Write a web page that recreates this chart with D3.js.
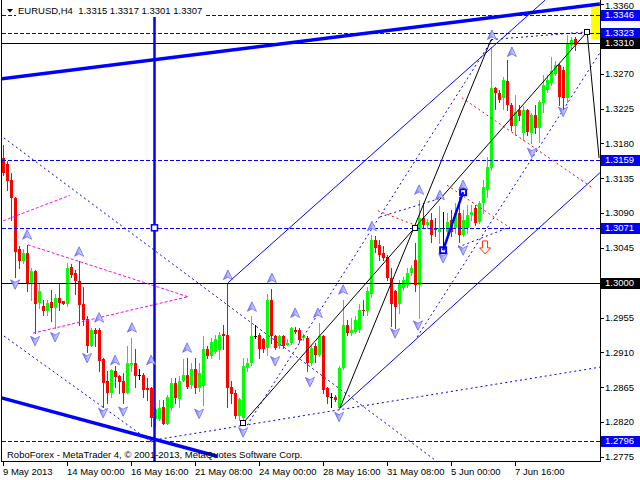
<!DOCTYPE html>
<html><head><meta charset="utf-8">
<script src="https://cdn.jsdelivr.net/npm/d3@7/dist/d3.min.js"></script>
<style>
body{margin:0;background:#fff}
svg{display:block}
text{font-family:"Liberation Sans",Arial,sans-serif;font-size:9.5px}
</style>
</head><body>
<svg id="c" width="640" height="480"></svg>
<script>
// ---------- DATA ----------
const symbol = "EURUSD,H4";
const opens = [1.3161,1.3154,1.3133,1.3109,1.3043,1.3028,1.3038,1.3000,1.3015,1.2974,
1.2970,1.2963,1.2975,1.2967,1.2980,1.2976,1.2972,1.3020,1.3012,1.3002,
1.2972,1.2953,1.2918,1.2939,1.2939,1.2901,1.2873,1.2858,1.2886,1.2880,
1.2873,1.2858,1.2894,1.2896,1.2881,1.2881,1.2864,1.2864,1.2824,1.2824,
1.2840,1.2818,1.2838,1.2871,1.2850,1.2873,1.2881,1.2868,1.2888,1.2864,
1.2867,1.2914,1.2905,1.2911,1.2913,1.2934,1.2933,1.2866,1.2858,1.2828,
1.2825,1.2890,1.2896,1.2931,1.2932,1.2927,1.2916,1.2978,1.2931,1.2918,
1.2931,1.2920,1.2922,1.2939,1.2939,1.2929,1.2929,1.2896,1.2918,1.2907,
1.2931,1.2864,1.2853,1.2853,1.2838,1.2890,1.2946,1.2935,1.2937,1.2939,
1.2965,1.2963,1.2985,1.3055,1.3049,1.3038,1.3033,1.3006,1.2989,1.2972,
1.2993,1.2997,1.3012,1.3030,1.2997,1.3083,1.3075,1.3081,1.3071,1.3066,
1.3071,1.3066,1.3081,1.3071,1.3090,1.3062,1.3071,1.3088,1.3096,1.3079,
1.3103,1.3120,1.3148,1.3251,1.3245,1.3238,1.3260,1.3230,1.3202,1.3223,
1.3193,1.3223,1.3193,1.3217,1.3200,1.3232,1.3249,1.3258,1.3270,1.3281,
1.3275,1.3238,1.3307,1.3315];
const highs = [1.3178,1.3157,1.3142,1.3111,1.3047,1.3043,1.3049,1.3019,1.3016,1.3000,
1.2978,1.2978,1.2991,1.2985,1.3000,1.2977,1.3025,1.3024,1.3017,1.3028,
1.2995,1.2957,1.2942,1.2942,1.2942,1.2903,1.2886,1.2888,1.2892,1.2881,
1.2883,1.2918,1.2929,1.2914,1.2888,1.2883,1.2877,1.2866,1.2840,1.2849,
1.2849,1.2855,1.2877,1.2877,1.2879,1.2901,1.2903,1.2896,1.2903,1.2896,
1.2931,1.2918,1.2929,1.2933,1.2937,1.2946,1.2999,1.2873,1.2862,1.2851,
1.2903,1.2903,1.2957,1.2946,1.2935,1.2929,1.2985,1.2992,1.2933,1.2933,
1.2933,1.2927,1.2943,1.2943,1.2942,1.2934,1.2931,1.2918,1.2922,1.2948,
1.2933,1.2866,1.2858,1.2855,1.2892,1.2978,1.2952,1.2954,1.2957,1.2972,
1.2978,1.2995,1.3062,1.3060,1.3055,1.3047,1.3036,1.3019,1.2991,1.3004,
1.3008,1.3019,1.3023,1.3051,1.3107,1.3101,1.3082,1.3090,1.3083,1.3099,
1.3092,1.3090,1.3094,1.3103,1.3111,1.3094,1.3101,1.3101,1.3101,1.3105,
1.3133,1.3163,1.3305,1.3253,1.3249,1.3266,1.3288,1.3232,1.3243,1.3230,
1.3228,1.3225,1.3219,1.3230,1.3236,1.3268,1.3268,1.3292,1.3286,1.3283,
1.3279,1.3320,1.3318,1.3317];
const lows = [1.3139,1.3120,1.3081,1.3008,1.3019,1.3025,1.2989,1.2978,1.2935,1.2967,
1.2959,1.2959,1.2950,1.2942,1.2965,1.2972,1.2970,1.3007,1.2985,1.2946,
1.2946,1.2911,1.2918,1.2918,1.2886,1.2840,1.2845,1.2853,1.2866,1.2858,
1.2845,1.2858,1.2886,1.2866,1.2876,1.2853,1.2849,1.2815,1.2815,1.2823,
1.2817,1.2817,1.2836,1.2845,1.2840,1.2873,1.2864,1.2864,1.2858,1.2860,
1.2842,1.2903,1.2903,1.2909,1.2901,1.2914,1.2840,1.2845,1.2825,1.2823,
1.2820,1.2886,1.2894,1.2929,1.2903,1.2911,1.2907,1.2922,1.2914,1.2916,
1.2916,1.2919,1.2921,1.2935,1.2924,1.2926,1.2886,1.2894,1.2898,1.2905,
1.2858,1.2845,1.2840,1.2847,1.2837,1.2888,1.2933,1.2933,1.2935,1.2937,
1.2959,1.2958,1.2982,1.3040,1.3030,1.3030,1.3004,1.2944,1.2942,1.2961,
1.2991,1.2995,1.3010,1.2989,1.2954,1.3071,1.3071,1.3053,1.3060,1.3051,
1.3043,1.3055,1.3060,1.3064,1.3053,1.3060,1.3064,1.3081,1.3075,1.3077,
1.3090,1.3111,1.3146,1.3225,1.3234,1.3225,1.3223,1.3197,1.3191,1.3210,
1.3185,1.3191,1.3180,1.3193,1.3182,1.3221,1.3247,1.3255,1.3268,1.3230,
1.3223,1.3234,1.3303,1.3301];
const closes = [1.3142,1.3131,1.3109,1.3040,1.3028,1.3038,1.3000,1.3015,1.2972,1.2989,
1.2963,1.2974,1.2967,1.2980,1.2974,1.2973,1.3019,1.3010,1.3002,1.2971,
1.2952,1.2918,1.2939,1.2934,1.2899,1.2871,1.2858,1.2887,1.2878,1.2872,
1.2858,1.2896,1.2897,1.2880,1.2881,1.2862,1.2862,1.2825,1.2837,1.2838,
1.2818,1.2853,1.2871,1.2851,1.2873,1.2881,1.2866,1.2888,1.2864,1.2884,
1.2914,1.2905,1.2924,1.2927,1.2933,1.2931,1.2864,1.2856,1.2828,1.2850,
1.2892,1.2896,1.2931,1.2931,1.2914,1.2914,1.2978,1.2931,1.2916,1.2931,
1.2918,1.2922,1.2942,1.2936,1.2926,1.2931,1.2896,1.2916,1.2907,1.2931,
1.2862,1.2853,1.2853,1.2849,1.2890,1.2946,1.2935,1.2939,1.2952,1.2965,
1.2963,1.2990,1.3055,1.3045,1.3036,1.3032,1.3006,1.2972,1.2969,1.3000,
1.3004,1.3012,1.3019,1.2997,1.3083,1.3074,1.3079,1.3062,1.3068,1.3071,
1.3071,1.3079,1.3066,1.3090,1.3062,1.3081,1.3088,1.3091,1.3077,1.3103,
1.3124,1.3150,1.3251,1.3245,1.3236,1.3262,1.3230,1.3202,1.3221,1.3215,
1.3223,1.3195,1.3217,1.3200,1.3234,1.3255,1.3262,1.3273,1.3281,1.3240,
1.3238,1.3308,1.3314,1.3307];

const timeLabels = ["9 May 2013","14 May 00:00","16 May 16:00","21 May 08:00","24 May 00:00","28 May 16:00","31 May 08:00","5 Jun 00:00","7 Jun 16:00"];
const timeLabelBars = [0,16,32,48,64,80,96,112,128];
const priceTicks = [1.2775,1.2820,1.2865,1.2910,1.2955,1.3000,1.3045,1.3090,1.3135,1.3180,1.3225,1.3270,1.3315,1.3360];
const dashedLevels = [1.3346,1.3323,1.3159,1.3071,1.2796];
const solidLevels = [1.3310,1.3000];
const copyright = "RoboForex - MetaTrader 4, \u00A9 2001-2013, MetaQuotes Software Corp.";

// trend objects: [bar1, price1, bar2, price2]
const thickLines = [[-0.9,1.3263,149.1,1.3360],[-0.9,1.2852,53.4,1.2776]];
const thinLines = [[56.1,1.3000,135.4,1.3365],[84.1,1.2838,149.1,1.3142]];
const dotLines = [[-0.9,1.3191,108.4,1.2769],[-0.9,1.2935,37.9,1.2791],[36.6,1.2796,149.1,1.2891],
  [60.9,1.2816,122.4,1.3316],[121.9,1.3314,145.9,1.3324],[103.4,1.2930,149.1,1.3297],
  [94.1,1.3085,110.4,1.3111],[113.6,1.3046,126.6,1.3072]];
const blackLines = [[59.9,1.2819,145.9,1.3324],[84.1,1.2838,121.9,1.3314],[145.9,1.3324,148.9,1.3161]];
const wavePath = [[109.9,1.3042,114.9,1.3117]];
const magentaLines = [[-0.1,1.3080,16.6,1.3113],[6.1,1.3049,46.1,1.2982],[7.4,1.2935,46.1,1.2982]];
const redLines = [[114.6,1.3239,147.4,1.3122],[93.6,1.3093,103.6,1.3073],[110.9,1.3126,126.6,1.3071]];
const vLine = [37.7,1.3345];
const vLineMarker = [37.7,1.3071];
const blackSquares = [[59.9,1.2819],[102.9,1.3071],[145.9,1.3324]];
const yellowBox = [146.9,1.3361,149.2,1.3314];
const upArrows = [[5.9,1.3062],[18.9,1.3040],[23.9,1.2955],[32.1,1.2942],[27.9,1.2900],[36.9,1.2900],
  [45.9,1.2916],[56.1,1.3010],[67.1,1.3006],[62.1,1.2969],[72.9,1.2961],[78.6,1.2961],[84.9,1.2991],
  [92.1,1.3073],[103.9,1.3120],[109.1,1.3113],[114.9,1.3126],[122.1,1.3320],[127.1,1.3298]];
const downArrows = [[2.9,1.2998],[7.9,1.2925],[12.9,1.2930],[20.9,1.2903],[24.9,1.2832],[29.9,1.2834],
  [48.9,1.2831],[59.9,1.2807],[67.9,1.2899],[76.6,1.2872],[83.9,1.2827],[97.9,1.2935],[103.6,1.2945],
  [109.9,1.3032],[114.9,1.3042],[132.1,1.3168],[139.9,1.3221]];
const signalArrow = [120.4,1.3045];

// ---------- CHART ----------
const W=640,H=480, RIGHT=600, BOTTOM=461;
const x=d3.scaleLinear().domain([0,150]).range([3.5,603.5]);
const y=d3.scaleLinear().domain([1.2775,1.3360]).range([457,4]);
const svg=d3.select('#c');
svg.append('rect').attr('width',W).attr('height',H).attr('fill','#fff');
const defs=svg.append('defs');
defs.append('clipPath').attr('id','pc').append('rect').attr('x',2).attr('y',0).attr('width',RIGHT-2).attr('height',BOTTOM);
const gr=defs.append('linearGradient').attr('id','ag').attr('x1',0).attr('x2',1).attr('y1',0).attr('y2',0);
gr.append('stop').attr('offset',0).attr('stop-color','#6a6aff');
gr.append('stop').attr('offset',0.5).attr('stop-color','#b4b4ff');
gr.append('stop').attr('offset',1).attr('stop-color','#f0f0ff');

const g=svg.append('g').attr('clip-path','url(#pc)');

// yellow box
g.append('rect').attr('x',x(yellowBox[0])).attr('y',y(yellowBox[1]))
 .attr('width',x(yellowBox[2])-x(yellowBox[0])).attr('height',y(yellowBox[3])-y(yellowBox[1])).attr('fill','#ffff00');

// candles
const bars=d3.range(opens.length).map(i=>({i,o:opens[i],h:highs[i],l:lows[i],c:closes[i]}));
const col=d=>d.c>d.o?'#00ff00':(d.c<d.o?'#ff0000':'#000000');
const cg=g.append('g').attr('shape-rendering','crispEdges');
cg.selectAll('.w').data(bars).join('rect').attr('class','w')
 .attr('x',d=>Math.floor(x(d.i))).attr('width',1)
 .attr('y',d=>Math.round(y(d.h))).attr('height',d=>Math.max(1,Math.round(y(d.l))-Math.round(y(d.h))+1))
 .attr('fill',col);
cg.selectAll('.b').data(bars).join('rect').attr('class','b')
 .attr('x',d=>Math.floor(x(d.i))-1).attr('width',3)
 .attr('y',d=>Math.round(y(Math.max(d.o,d.c))))
 .attr('height',d=>Math.max(1,Math.round(y(Math.min(d.o,d.c)))-Math.round(y(Math.max(d.o,d.c)))))
 .attr('fill',col);

// horizontal levels
const lv=g.append('g').attr('shape-rendering','crispEdges');
lv.selectAll('.dl').data(dashedLevels).join('line')
 .attr('x1',2).attr('x2',RIGHT).attr('y1',d=>Math.round(y(d))+0.5).attr('y2',d=>Math.round(y(d))+0.5)
 .attr('stroke','#0000ff').attr('stroke-dasharray','4,2');
lv.selectAll('.sl').data(solidLevels).join('line')
 .attr('x1',2).attr('x2',RIGHT).attr('y1',d=>Math.round(y(d))+0.5).attr('y2',d=>Math.round(y(d))+0.5)
 .attr('stroke','#000');

function segs(arr,stroke,w,dash){
  g.append('g').selectAll('line').data(arr).join('line')
   .attr('x1',d=>x(d[0])).attr('y1',d=>y(d[1])).attr('x2',d=>x(d[2])).attr('y2',d=>y(d[3]))
   .attr('stroke',stroke).attr('stroke-width',w).attr('stroke-dasharray',dash||null);
}
segs(magentaLines,'#ff00ff',1,'3,2');
segs(redLines,'#ff0000',1,'2,3');
segs(dotLines,'#0000ff',1,'2,3');
segs(thinLines,'#0000ff',1);
segs(blackLines,'#000000',1);
segs(thickLines,'#0000ff',3.5);
segs(wavePath,'#0000ff',2.5);

// vertical line
const vx=Math.round(x(vLine[0]))+0.5;
g.append('line').attr('x1',vx).attr('x2',vx).attr('y1',y(vLine[1])).attr('y2',BOTTOM).attr('stroke','#0000ff').attr('stroke-width',2.5);
g.append('line').attr('x1',vx-4).attr('x2',vx+4).attr('y1',y(vLine[1])).attr('y2',y(vLine[1])).attr('stroke','#0000ff').attr('stroke-width',2);
g.append('rect').attr('x',vx-3).attr('y',y(vLineMarker[1])-3).attr('width',6).attr('height',6)
 .attr('fill','#fff').attr('stroke','#0000ff').attr('stroke-width',1.5);

// squares
g.selectAll('.sq').data(blackSquares).join('rect')
 .attr('x',d=>Math.round(x(d[0]))-2.5).attr('y',d=>Math.round(y(d[1]))-2.5).attr('width',5).attr('height',5)
 .attr('fill','#fff').attr('stroke','#000');
wavePath.forEach(d=>{
  [[d[0],d[1]],[d[2],d[3]]].forEach(p=>{
    g.append('rect').attr('x',x(p[0])-3).attr('y',y(p[1])-3).attr('width',6).attr('height',6)
     .attr('fill','none').attr('stroke','#0000ff').attr('stroke-width',2);
  });
});

// arrows
g.selectAll('.ua').data(upArrows).join('path')
 .attr('d','M0,-5 L4.5,4.5 L0,2 L-4.5,4.5 Z')
 .attr('transform',d=>`translate(${x(d[0])},${y(d[1])})`)
 .attr('fill','url(#ag)').attr('stroke','#6464ff').attr('stroke-width',0.8);
g.selectAll('.da').data(downArrows).join('path')
 .attr('d','M0,5 L4.5,-4.5 L0,-2 L-4.5,-4.5 Z')
 .attr('transform',d=>`translate(${x(d[0])},${y(d[1])})`)
 .attr('fill','url(#ag)').attr('stroke','#6464ff').attr('stroke-width',0.8);
g.append('path').attr('d','M-2.5,-7 H2.5 V0 H5.5 L0,6 L-5.5,0 H-2.5 Z')
 .attr('transform',`translate(${x(signalArrow[0])},${y(signalArrow[1])})`)
 .attr('fill','#fff').attr('stroke','#ff3000').attr('stroke-width',1);

// frame
const fr=svg.append('g').attr('shape-rendering','crispEdges');
fr.append('line').attr('x1',1.5).attr('x2',1.5).attr('y1',0).attr('y2',BOTTOM+1).attr('stroke','#000');
fr.append('line').attr('x1',1).attr('x2',RIGHT+1).attr('y1',BOTTOM+0.5).attr('y2',BOTTOM+0.5).attr('stroke','#000');
fr.append('line').attr('x1',RIGHT+0.5).attr('x2',RIGHT+0.5).attr('y1',0).attr('y2',BOTTOM+1).attr('stroke','#000');

// price axis
const tagged=dashedLevels.concat(solidLevels);
const visibleTicks=priceTicks.filter(p=>!tagged.some(t=>Math.abs(y(t)-y(p))<9));
const ax=svg.append('g');
ax.selectAll('.tk').data(priceTicks).join('line').attr('shape-rendering','crispEdges')
 .attr('x1',RIGHT).attr('x2',RIGHT+4).attr('y1',d=>Math.round(y(d))+0.5).attr('y2',d=>Math.round(y(d))+0.5).attr('stroke','#000');
ax.selectAll('.tl').data(visibleTicks).join('text')
 .attr('x',605).attr('y',d=>Math.max(y(d),5.5)).attr('dy','0.35em').attr('fill','#000').text(d=>d.toFixed(4));
function tag(p,bg){
  const yy=Math.round(y(p));
  ax.append('rect').attr('x',601).attr('y',yy-5.5).attr('width',39).attr('height',11).attr('fill',bg).attr('shape-rendering','crispEdges');
  ax.append('text').attr('x',605).attr('y',yy).attr('dy','0.35em').attr('fill','#fff').text(p.toFixed(4));
}
dashedLevels.forEach(p=>tag(p,'#0000ff'));
solidLevels.forEach(p=>tag(p,'#000000'));

// time axis
const tx=svg.append('g');
tx.selectAll('.tt').data(timeLabelBars).join('line').attr('shape-rendering','crispEdges')
 .attr('x1',d=>Math.floor(x(d))+0.5).attr('x2',d=>Math.floor(x(d))+0.5).attr('y1',BOTTOM).attr('y2',BOTTOM+5).attr('stroke','#000');
tx.selectAll('.tlb').data(timeLabelBars).join('text')
 .attr('x',d=>Math.floor(x(d))).attr('y',475).attr('fill','#000').text((d,k)=>timeLabels[k]);

// title and copyright
const last=opens.length-1;
const title=`${symbol}  ${opens[last].toFixed(4)} ${highs[last].toFixed(4)} ${lows[last].toFixed(4)} ${closes[last].toFixed(4)}`;
const titleBg=svg.append('rect').attr('x',16).attr('y',6).attr('height',11).attr('fill','#fff');
const tt=svg.append('text').attr('x',18).attr('y',13.5).attr('fill','#000').style('white-space','pre').text(title);
titleBg.attr('width',tt.node().getComputedTextLength()+4);
svg.append('path').attr('d','M7,9 L13,9 L10,12.5 Z').attr('fill','#000');
svg.append('text').attr('x',7).attr('y',457.5).attr('fill','#000').text(copyright);
</script>
</body></html>
